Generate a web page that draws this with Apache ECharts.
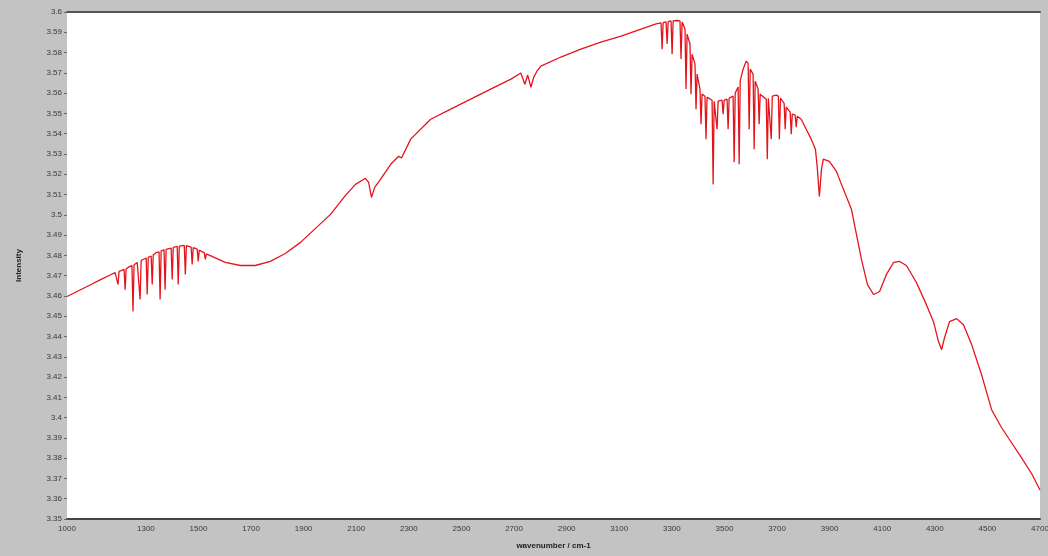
<!DOCTYPE html>
<html>
<head>
<meta charset="utf-8">
<script src="https://cdn.jsdelivr.net/npm/echarts@6/dist/echarts.min.js"></script>
<style>
  html, body { margin: 0; padding: 0; background: #c3c3c3; }
  #chart { width: 1048px; height: 556px; }
</style>
</head>
<body>
<div id="chart"></div>
<script>
// Axis settings
const xRange = [1000, 4700];
const yRange = [3.35, 3.60];
const xTitle = 'wavenumber / cm-1';
const yTitle = 'Intensity';

// Continuum below 1600 cm-1 with the narrow bending-band lines
const spectrumLow = [
  [1000, 3.4597], [1088, 3.4654], [1126, 3.4679], [1164, 3.4703], [1183, 3.4715],
  [1190, 3.4718], [1194, 3.4656], [1198, 3.4721], [1206, 3.4725],
  [1217, 3.4731], [1221, 3.4631], [1225, 3.4734], [1236, 3.4743],
  [1247, 3.4749], [1251, 3.4523], [1255, 3.4754], [1267, 3.4765],
  [1274, 3.4770], [1278, 3.4582], [1282, 3.4775], [1293, 3.4782],
  [1301, 3.4787], [1305, 3.4607], [1309, 3.4790],
  [1320, 3.4797], [1324, 3.4656], [1328, 3.4802], [1339, 3.4814],
  [1350, 3.4817], [1354, 3.4582], [1358, 3.4822],
  [1369, 3.4827], [1373, 3.4631], [1377, 3.4830],
  [1396, 3.4836], [1400, 3.4681], [1404, 3.4839],
  [1419, 3.4844], [1423, 3.4656], [1427, 3.4846], [1434, 3.4849],
  [1446, 3.4849], [1450, 3.4706], [1454, 3.4848],
  [1472, 3.4841], [1476, 3.4755], [1480, 3.4838],
  [1495, 3.4831], [1499, 3.4770], [1503, 3.4826],
  [1522, 3.4812], [1526, 3.4780], [1530, 3.4807], [1545, 3.4799]
];

// Smooth rise up to the main maximum
const spectrumMid = [
  [1602, 3.4765], [1659, 3.4750], [1716, 3.4750], [1773, 3.4770], [1830, 3.4809],
  [1888, 3.4864], [1945, 3.4933], [2002, 3.5002], [2059, 3.5096], [2097, 3.5150],
  [2135, 3.5180], [2147, 3.5160], [2158, 3.5086], [2170, 3.5135], [2192, 3.5175],
  [2231, 3.5249], [2261, 3.5289], [2272, 3.5280], [2307, 3.5373], [2383, 3.5471],
  [2459, 3.5521], [2535, 3.5570], [2611, 3.5620], [2688, 3.5669], [2726, 3.5699],
  [2741, 3.5644], [2752, 3.5689], [2764, 3.5629], [2775, 3.5679], [2787, 3.5708],
  [2802, 3.5733], [2878, 3.5778], [2954, 3.5817], [3030, 3.5852], [3107, 3.5881],
  [3183, 3.5916], [3240, 3.5941]
];

// Dense stretching-band lines around the maximum
const spectrumBand = [
  [3259, 3.5946], [3263, 3.5817], [3267, 3.5948],
  [3278, 3.5951], [3282, 3.5842], [3286, 3.5953],
  [3297, 3.5956], [3301, 3.5792], [3305, 3.5956], [3320, 3.5958],
  [3331, 3.5956], [3335, 3.5768], [3339, 3.5951],
  [3350, 3.5916], [3354, 3.5620], [3358, 3.5891],
  [3369, 3.5842], [3373, 3.5595], [3377, 3.5792],
  [3388, 3.5743], [3392, 3.5521], [3396, 3.5694],
  [3407, 3.5620], [3411, 3.5447], [3415, 3.5595],
  [3426, 3.5585], [3430, 3.5373], [3434, 3.5580],
  [3453, 3.5565], [3457, 3.5150], [3461, 3.5560],
  [3468, 3.5560], [3472, 3.5422], [3476, 3.5560],
  [3491, 3.5565], [3495, 3.5496], [3499, 3.5565],
  [3510, 3.5570], [3514, 3.5422], [3518, 3.5575],
  [3533, 3.5585], [3537, 3.5259], [3541, 3.5600],
  [3552, 3.5630], [3556, 3.5249], [3560, 3.5660],
  [3571, 3.5718], [3583, 3.5758],
  [3590, 3.5748], [3594, 3.5422], [3598, 3.5718],
  [3609, 3.5694], [3613, 3.5323], [3617, 3.5659],
  [3628, 3.5620], [3632, 3.5447], [3636, 3.5595],
  [3659, 3.5570], [3663, 3.5274], [3667, 3.5575],
  [3674, 3.5580], [3678, 3.5373], [3682, 3.5585], [3697, 3.5590],
  [3705, 3.5585], [3709, 3.5373], [3713, 3.5575],
  [3727, 3.5550], [3731, 3.5422], [3735, 3.5531],
  [3750, 3.5506], [3754, 3.5397], [3758, 3.5496],
  [3769, 3.5491], [3773, 3.5432], [3777, 3.5486], [3792, 3.5471]
];

// Fall-off at high wavenumber
const spectrumHigh = [
  [3811, 3.5422], [3830, 3.5373], [3846, 3.5323], [3853, 3.5234], [3861, 3.5091],
  [3869, 3.5224], [3876, 3.5274], [3899, 3.5264], [3926, 3.5214], [3945, 3.5150],
  [3983, 3.5027], [4021, 3.4780], [4044, 3.4656], [4067, 3.4607], [4090, 3.4622],
  [4116, 3.4706], [4143, 3.4765], [4166, 3.4770], [4192, 3.4750], [4230, 3.4666],
  [4268, 3.4557], [4295, 3.4473], [4314, 3.4375], [4326, 3.4335], [4337, 3.4394],
  [4356, 3.4473], [4383, 3.4488], [4409, 3.4458], [4440, 3.4360], [4478, 3.4211],
  [4516, 3.4039], [4554, 3.3950], [4592, 3.3876], [4630, 3.3801], [4669, 3.3722],
  [4700, 3.3643]
];

const spectrum = spectrumLow.concat(spectrumMid, spectrumBand, spectrumHigh);

const chart = echarts.init(document.getElementById('chart'), null, { renderer: 'canvas' });
const labelFont = { color: '#3a3a3a', fontSize: 8, fontFamily: 'Liberation Sans' };

// Labelled x positions: the axis start, then every 200 cm-1 from 1300
const showXLabel = v => v === xRange[0] || (v >= 1300 && (v - 1300) % 200 === 0);

chart.setOption({
  backgroundColor: '#c3c3c3',
  animation: false,
  grid: {
    left: 67, right: 8, top: 12, bottom: 37,
    outerBoundsMode: 'none', containLabel: false,
    show: true, backgroundColor: '#ffffff', borderWidth: 0
  },
  xAxis: [{
    type: 'value', min: xRange[0], max: xRange[1], interval: 100,
    name: xTitle, nameLocation: 'middle', nameGap: 23,
    nameTextStyle: { color: '#222', fontSize: 8, fontWeight: 'bold', fontFamily: 'Liberation Sans' },
    axisLine: { show: true, lineStyle: { color: '#444', width: 2 } },
    axisTick: { show: false },
    splitLine: { show: false },
    axisLabel: Object.assign({
      margin: 6, showMaxLabel: true, showMinLabel: true,
      formatter: v => showXLabel(v) ? String(v) : ''
    }, labelFont)
  }, {
    type: 'value', position: 'top', min: xRange[0], max: xRange[1],
    axisLine: { show: true, lineStyle: { color: '#555', width: 2 } },
    axisTick: { show: false }, axisLabel: { show: false }, splitLine: { show: false }
  }],
  yAxis: {
    type: 'value', min: yRange[0], max: yRange[1], interval: 0.01,
    name: yTitle, nameLocation: 'middle', nameGap: 44, nameRotate: 90,
    nameTextStyle: { color: '#222', fontSize: 8, fontWeight: 'bold', fontFamily: 'Liberation Sans' },
    axisLine: { show: false },
    axisTick: { show: true, length: 3, lineStyle: { color: '#666' } },
    splitLine: { show: false },
    axisLabel: Object.assign({ margin: 5 }, labelFont)
  },
  series: [{
    type: 'line',
    data: spectrum,
    showSymbol: false,
    symbol: 'none',
    lineStyle: { color: '#e5141c', width: 1.3 },
    clip: true
  }]
});
</script>
</body>
</html>
